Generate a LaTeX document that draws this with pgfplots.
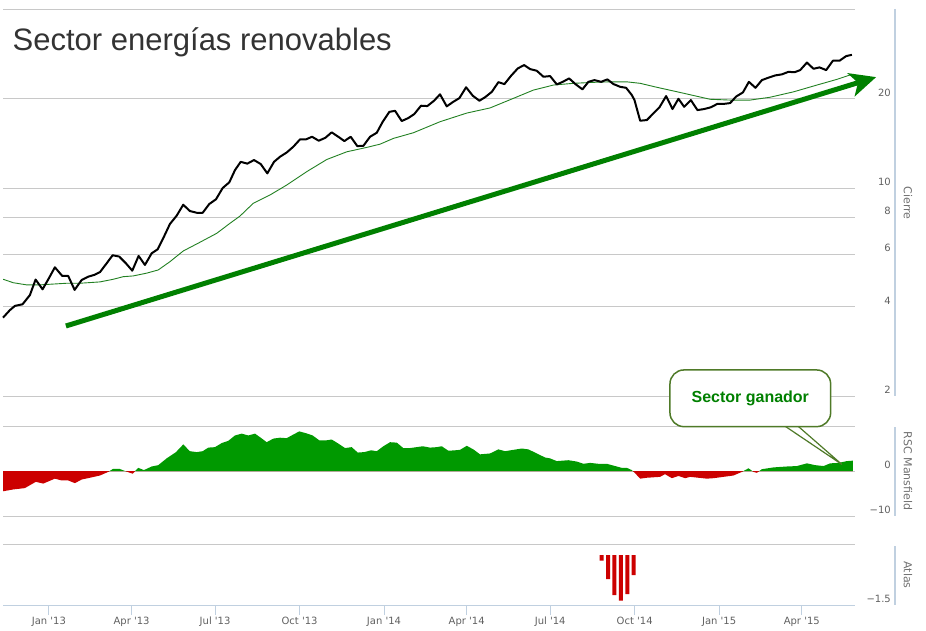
\documentclass[border=0pt]{standalone}
\usepackage{fontspec}
\setmainfont{DejaVu Sans}
\newfontfamily\lib{Liberation Sans}
\usepackage{pgfplots}
\pgfplotsset{compat=1.18}
\usepackage{pgfplotstable}
\usetikzlibrary{arrows.meta}
\definecolor{gridgray}{RGB}{200,200,200}
\definecolor{axblue}{RGB}{192,208,224}
\definecolor{lblgray}{RGB}{96,96,96}
\definecolor{ttlgray}{RGB}{112,112,112}
\definecolor{magreen}{RGB}{34,128,34}
\definecolor{arrgreen}{RGB}{0,128,0}
\definecolor{rscgreen}{RGB}{0,153,0}
\definecolor{rscred}{RGB}{204,0,0}
\definecolor{boxborder}{RGB}{79,122,40}
\definecolor{titlegray}{RGB}{51,51,51}

\pgfplotstableread{
x y
-50 3.67
-42.5 3.89
-37 4.02
-28.7 4.07
-20.7 4.37
-14.5 4.93
-6.9 4.57
0 4.98
6.5 5.42
14.5 5.07
21 5.07
28 4.55
35.6 4.91
42.8 5.04
49.4 5.11
55.6 5.22
62.9 5.59
69.4 5.95
76.6 5.89
83.9 5.59
90.8 5.28
97.7 5.92
104.6 5.52
111.9 6.04
118.4 6.23
125.3 6.87
131.8 7.58
139.1 8.08
146.3 8.80
153.6 8.38
160.9 8.27
167.5 8.27
174.7 8.85
182 9.18
189.3 10.02
196.5 10.47
202.7 11.51
208.9 12.27
216.1 12.10
223.4 12.44
230.7 12.06
237.9 11.22
245.2 12.27
251.7 12.76
259 13.19
266.2 13.79
273.5 14.60
280 14.60
286.6 14.90
293.9 14.45
301.1 14.78
308 15.42
315.2 14.90
321.8 14.41
328.7 14.90
335.9 13.86
342.5 13.89
349.8 14.90
357.1 15.37
363.6 16.74
370.8 18.07
377 18.22
384.3 16.83
391.5 17.23
398 17.77
405.3 18.95
412.2 18.90
419.5 19.70
426 20.70
433.3 18.86
440.5 19.54
447.1 20.10
454.4 21.86
461.7 20.47
468.9 19.70
475.1 20.24
482.4 21.10
489.6 22.75
496.1 22.40
503.4 23.90
510.7 25.30
517.6 25.96
524.1 25.17
531.4 24.84
538.6 23.72
545.9 23.84
553.2 22.35
559.7 22.80
566.6 23.42
573.9 22.35
581.1 21.51
587.6 22.80
594.2 23.11
601.5 22.80
608.3 23.24
614.9 22.41
622.2 21.94
628.7 21.77
634.9 20.58
637.8 19.80
644 16.87
651.3 16.96
658.4 17.86
665 18.72
672.3 20.42
679.2 18.47
685.7 20.00
691.9 18.79
699.2 19.80
706.4 18.32
713.7 18.47
721 18.72
728.2 19.23
735.5 19.23
742 19.34
748.6 20.36
755.9 21.00
762.4 22.80
769.6 21.77
776.6 23.11
783.7 23.55
791 23.96
798.4 24.16
805.5 24.64
812.1 24.56
818.3 24.97
825.6 26.47
832.8 25.23
839.3 25.50
846.6 24.97
853.9 26.85
861.1 26.85
868.4 27.84
874.6 28.11
}\price

\pgfplotstableread{
x y
-49.8 4.94
-38.9 4.81
-24.3 4.73
-9.8 4.73
4.7 4.76
19.3 4.79
33.8 4.79
55.6 4.84
70.1 4.94
81 5.04
91.9 5.07
106.5 5.18
119.1 5.31
131.8 5.66
146.3 6.15
164.5 6.58
182.7 7.05
197.2 7.62
208.1 8.06
222.6 8.90
240.8 9.49
259 10.25
280.8 11.37
302.6 12.49
324.4 13.26
346.2 13.72
360.7 14.07
375.2 14.71
397 15.37
426 16.74
455.1 17.90
480.5 18.63
505.9 20.06
527.7 21.39
549.5 22.24
571.3 22.54
593.1 22.71
611.3 22.80
629.5 22.80
644 22.54
662.1 21.86
687.5 21.00
720.2 19.92
742 19.80
763.8 19.80
785.6 20.24
811 21.10
836.5 22.24
858.3 23.24
874.6 24.16
}\mavg

% RSC Mansfield, closed to the zero line at both ends
\pgfplotstableread{
x y
-49.8 0
-49.8 -4.5
-38.9 -4.1
-26.2 -3.8
-14.2 -2.4
-6.2 -2.8
6.5 -1.7
13.8 -2.1
21.0 -2.1
28.3 -2.7
35.6 -1.9
44.7 -1.5
55.6 -1.0
64.6 -0.2
70.1 0.5
76.6 0.5
82.8 0
91.2 -0.6
97.3 0.7
103.5 0.2
111.9 1.0
119.1 1.3
128.2 2.8
138.4 4.2
146.3 5.9
153.6 4.4
160.9 4.2
167.5 4.4
173.6 5.2
180.9 5.3
188.2 6.2
195.4 6.7
202.7 7.9
210.0 8.3
217.2 7.9
224.5 8.3
230.7 7.4
237.2 6.4
244.4 7.2
251.7 7.4
259.0 7.3
266.2 8.1
272.7 8.8
280.0 8.4
287.3 7.9
294.5 6.8
301.8 6.8
308.0 7.0
315.2 6.1
322.5 5.1
329.8 5.3
336.4 4.1
343.6 4.2
350.8 4.6
357.1 4.4
364.3 5.5
371.6 6.4
378.9 6.3
386.0 5.1
393.3 5.1
400.6 5.3
407.2 5.5
415.1 5.2
422.4 5.3
427.9 5.5
435.1 4.5
442.4 4.6
447.8 4.7
455.1 5.6
462.3 4.8
469.6 3.7
480.5 3.9
489.6 4.8
496.9 4.4
505.9 4.7
515.1 5.0
522.3 4.8
531.4 3.9
540.4 3.0
545.9 2.8
553.2 2.2
565.8 2.4
575.0 2.1
582.2 1.6
589.5 1.8
598.5 1.6
607.7 1.6
616.7 1.1
624.0 0.7
629.5 0.7
634.9 0.2
638.5 -0.5
644.0 -1.7
651.3 -1.5
658.4 -1.4
665.7 -1.3
671.1 -0.7
678.5 -1.6
685.7 -1.1
693.0 -1.6
698.4 -1.3
707.5 -1.5
716.6 -1.7
723.8 -1.6
734.7 -1.3
745.6 -1.0
754.8 -0.2
762.0 0.6
767.4 -0.2
771.1 -0.4
776.6 0.4
789.2 0.8
803.8 1.0
814.7 1.1
825.6 1.7
834.6 1.3
843.7 1.1
851.0 1.7
860.0 1.8
869.2 2.2
875.7 2.3
875.7 0
}\rsc

\pgfplotsset{
  panel/.style={scale only axis, width=852pt, anchor=south west,
    xmin=-50, xmax=878,
    axis line style={draw=none},
    ytick style={draw=none},
    ymajorgrids,
    major grid style={draw=gridgray, line width=1pt},
    yticklabel pos=right,
    yticklabel style={anchor=east, xshift=36pt, yshift=6pt,
      font=\fontsize{10}{12}\selectfont, text=lblgray, inner sep=0pt},
    /pgf/number format/assume math mode=true,
  },
  half/.style={scale only axis, width=852pt, anchor=south west,
    xmin=-50, xmax=878, hide axis},
}

\begin{document}
\begin{tikzpicture}

% price panel
\begin{axis}[panel, at={(3pt,234pt)}, height=388pt,
  ymode=log, ymin=2, ymax=40.4,
  ytick={2,4,6,8,10,20,40}, yticklabels={2,4,6,8,10,20,},
  xtick=\empty, clip=false]
\addplot[magreen, line width=0.9pt] table[x=x,y=y] {\mavg};
\addplot[black, line width=2pt, line join=round] table[x=x,y=y] {\price};
\addplot[arrgreen, line width=5pt, -{Stealth[length=26pt,width=24pt,inset=7pt]}]
  coordinates {(18.5,3.44) (901,23.65)};
\end{axis}

% RSC Mansfield panel: grid and labels
\begin{axis}[panel, at={(3pt,114pt)}, height=90pt,
  ymin=-10, ymax=10, ytick={-10,0,10}, yticklabels={−10,0,},
  xtick=\empty]
\end{axis}
% positive part (clipped to the upper half)
\begin{axis}[half, at={(3pt,159pt)}, height=45pt, ymin=0, ymax=10]
\addplot[fill=rscgreen, draw=none] table[x=x,y=y] {\rsc} -- cycle;
\end{axis}
% negative part (clipped to the lower half)
\begin{axis}[half, at={(3pt,114pt)}, height=45pt, ymin=-10, ymax=0]
\addplot[fill=rscred, draw=none] table[x=x,y=y] {\rsc} -- cycle;
\end{axis}

% Atlas panel
\begin{axis}[panel, at={(3pt,25pt)}, height=61pt,
  ymin=-1.5, ymax=0.33, ytick={-1.5,0.33}, yticklabels={−1.5,},
  yticklabel style={xshift=-10pt},
  xtick={0,90,181,273,365,455,546,638,730,820},
  xticklabels={Jan \textquotesingle13, Apr \textquotesingle13, Jul \textquotesingle13, Oct \textquotesingle13, Jan \textquotesingle14, Apr \textquotesingle14, Jul \textquotesingle14, Oct \textquotesingle14, Jan \textquotesingle15, Apr \textquotesingle15},
  xtick pos=bottom, tick align=outside, major tick length=10pt,
  xtick style={draw=axblue, line width=1pt},
  xticklabel style={anchor=base, font=\fontsize{10}{12}\selectfont, text=lblgray, yshift=-9pt}]
\addplot[ybar, bar width=4pt, bar shift=0pt, fill=rscred, draw=none]
  coordinates {(602,-0.17) (609,-0.72) (616,-1.2) (623,-1.37) (630,-1.17) (637,-0.6)};
\end{axis}

% axis lines
\draw[axblue, line width=1pt] (3pt,25pt) -- (855pt,25pt);
\draw[axblue, line width=1.3pt] (895pt,621pt) -- (895pt,234pt);
\draw[axblue, line width=1.3pt] (895pt,203pt) -- (895pt,114pt);
\draw[axblue, line width=1.3pt] (895pt,84pt) -- (895pt,25pt);

% axis titles
\node[rotate=-90, text=ttlgray, font=\fontsize{11}{13}\selectfont] at (908pt,427pt) {Cierre};
\node[rotate=-90, text=ttlgray, font=\fontsize{11}{13}\selectfont] at (908pt,159pt) {RSC Mansfield};
\node[rotate=-90, text=ttlgray, font=\fontsize{11}{13}\selectfont] at (908pt,55pt) {Atlas};

% title
\node[anchor=base west, inner sep=0pt, text=titlegray, font=\lib\fontsize{31}{36}\selectfont] at (12.5pt,579.3pt) {Sector energías renovables};

% callout
\filldraw[fill=white, draw=boxborder, line width=1.2pt, line join=round]
  (783.3pt,205pt) -- (841.7pt,165.7pt) -- (796.7pt,205pt);
\node[draw=boxborder, fill=white, line width=1.5pt, rounded corners=14pt,
  minimum width=160.7pt, minimum height=56.7pt, inner sep=0pt, text=arrgreen,
  font=\lib\bfseries\fontsize{16}{19}\selectfont] at (750.3pt,231.7pt) {Sector ganador};

\pgfresetboundingbox
\useasboundingbox (0,0) rectangle (926pt,630pt);
\end{tikzpicture}
\end{document}
